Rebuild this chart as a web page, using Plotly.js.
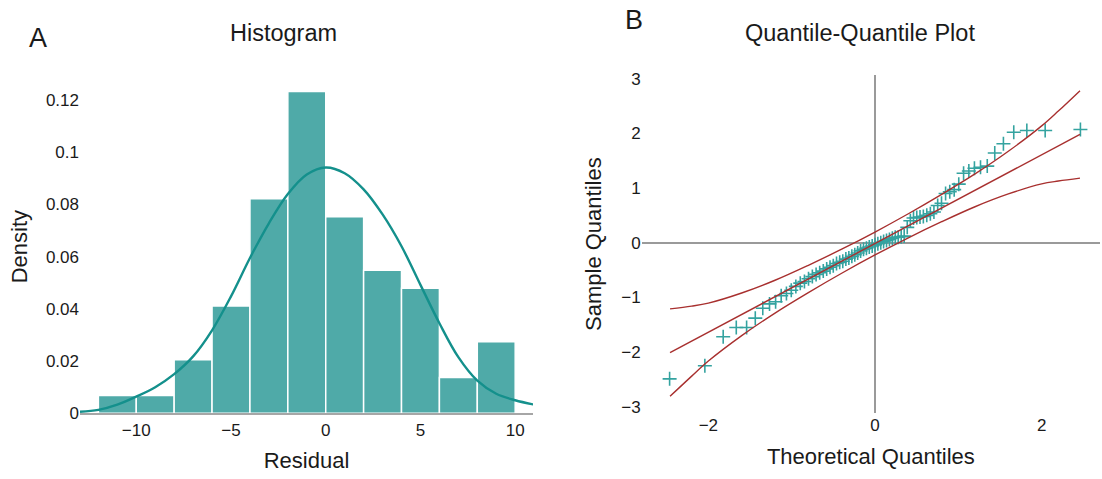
<!DOCTYPE html>
<html>
<head>
<meta charset="utf-8">
<script src="https://cdn.plot.ly/plotly-3.0.1.min.js"></script>
<style>html,body{margin:0;padding:0;background:#fff;}#chart{width:1102px;height:479px;}</style>
</head>
<body>
<div id="chart"></div>
<script>
// ---- Panel A: histogram of residuals (density scale) ----
const binCenters = [-11, -9, -7, -5, -3, -1, 1, 3, 5, 7, 9];
const binDensity = [0.0068, 0.0068, 0.0205, 0.0411, 0.0822, 0.1233, 0.0753, 0.0548, 0.0479, 0.0137, 0.0274];
const kdeX = [-12.97, -12, -11, -10, -9, -8, -7, -6, -5, -4, -3, -2, -1, 0, 1, 2, 3, 4, 5, 6, 7, 8, 9, 10, 10.95];
const kdeY = [0.0006, 0.0013, 0.0033, 0.0064, 0.0100, 0.0150, 0.0218, 0.0318, 0.0448, 0.0595, 0.0728, 0.0840, 0.0915, 0.0942, 0.0920, 0.0858, 0.0762, 0.0640, 0.0492, 0.0345, 0.0215, 0.0125, 0.0075, 0.0050, 0.0034];
const histXTicks = [-10, -5, 0, 5, 10];
const histYTicks = [0, 0.02, 0.04, 0.06, 0.08, 0.1, 0.12];

// ---- Panel B: Q-Q plot ----
const theoQ = [-2.465, -2.042, -1.822, -1.665, -1.541, -1.437, -1.347, -1.266, -1.193, -1.126,
  -1.063, -1.005, -0.950, -0.897, -0.847, -0.798, -0.752, -0.707, -0.664, -0.621,
  -0.580, -0.540, -0.501, -0.462, -0.424, -0.387, -0.350, -0.314, -0.278, -0.243,
  -0.208, -0.173, -0.138, -0.103, -0.069, -0.034, 0.000, 0.034, 0.069, 0.103,
  0.138, 0.173, 0.208, 0.243, 0.278, 0.314, 0.350, 0.387, 0.424, 0.462,
  0.501, 0.540, 0.580, 0.621, 0.664, 0.707, 0.752, 0.798, 0.847, 0.897,
  0.950, 1.005, 1.063, 1.126, 1.193, 1.266, 1.347, 1.437, 1.541, 1.665,
  1.822, 2.042, 2.465];
const sampleQ = [-2.49, -2.25, -1.72, -1.55, -1.55, -1.38, -1.20, -1.12, -1.08, -0.97,
  -0.93, -0.87, -0.80, -0.74, -0.71, -0.66, -0.62, -0.58, -0.55, -0.52,
  -0.48, -0.45, -0.42, -0.38, -0.36, -0.34, -0.30, -0.28, -0.25, -0.22,
  -0.19, -0.15, -0.12, -0.10, -0.08, -0.06, -0.04, -0.02, 0.00, 0.02,
  0.04, 0.06, 0.08, 0.10, 0.10, 0.11, 0.12, 0.28, 0.40, 0.45,
  0.46, 0.47, 0.48, 0.50, 0.53, 0.56, 0.68, 0.72, 0.90, 0.93,
  0.97, 1.07, 1.27, 1.31, 1.36, 1.38, 1.40, 1.64, 1.81, 2.02,
  2.05, 2.05, 2.07];
const refX = [-2.46, 2.46];
const refY = [-2.01, 1.98];
const bandX = [-2.46, -2.2, -2.0, -1.6, -1.2, -0.8, -0.4, 0, 0.4, 0.8, 1.2, 1.6, 2.0, 2.2, 2.46];
const upperY = [-1.21, -1.16, -1.105, -0.92, -0.687, -0.413, -0.119, 0.195, 0.529, 0.883, 1.257, 1.671, 2.135, 2.407, 2.78];
const lowerY = [-2.81, -2.44, -2.165, -1.70, -1.287, -0.913, -0.559, -0.225, 0.089, 0.383, 0.657, 0.891, 1.075, 1.127, 1.18];
const qqXTicks = [-2, 0, 2];
const qqYTicks = [-3, -2, -1, 0, 1, 2, 3];

const W = 1102, H = 479;
const px = v => v / W;
const py = v => 1 - v / H;
const FONT = 'Liberation Sans, Arial, Helvetica, sans-serif';
const TXT = '#1a1a1a';
const teal = '#4faaa8', tealDark = '#14908c', red = '#a8302f';

const traces = [
  { type: 'bar', x: binCenters, y: binDensity, width: 2, xaxis: 'x', yaxis: 'y',
    marker: { color: teal, line: { color: '#ffffff', width: 1.5 } }, hoverinfo: 'x+y' },
  { type: 'scatter', mode: 'lines', x: kdeX, y: kdeY, xaxis: 'x', yaxis: 'y',
    line: { color: tealDark, width: 2.4, shape: 'spline', smoothing: 1 } },
  { type: 'scatter', mode: 'markers', x: theoQ, y: sampleQ, xaxis: 'x2', yaxis: 'y2',
    marker: { symbol: 'cross-thin-open', size: 10, color: '#34a3a0', line: { color: '#34a3a0', width: 1.6 } } },
  { type: 'scatter', mode: 'lines', x: refX, y: refY, xaxis: 'x2', yaxis: 'y2',
    line: { color: red, width: 1.4 } },
  { type: 'scatter', mode: 'lines', x: bandX, y: upperY, xaxis: 'x2', yaxis: 'y2',
    line: { color: red, width: 1.4, shape: 'spline', smoothing: 1 } },
  { type: 'scatter', mode: 'lines', x: bandX, y: lowerY, xaxis: 'x2', yaxis: 'y2',
    line: { color: red, width: 1.4, shape: 'spline', smoothing: 1 } }
];

const tickFont = { family: FONT, size: 17, color: TXT };
const titleFont = { family: FONT, size: 22, color: TXT };

const layout = {
  width: W, height: H,
  margin: { l: 0, r: 0, t: 0, b: 0 },
  paper_bgcolor: '#ffffff', plot_bgcolor: '#ffffff',
  showlegend: false,
  font: { family: FONT, color: TXT },
  xaxis: {
    domain: [px(80), px(533)], anchor: 'y', range: [-12.97, 10.94],
    tickvals: histXTicks, tickfont: tickFont, ticks: '', showgrid: false, zeroline: false,
    showline: true, linecolor: '#a6a6a6', linewidth: 2,
    title: { text: 'Residual', font: titleFont, standoff: 14 }, automargin: false
  },
  yaxis: {
    domain: [py(413.3), py(80)], anchor: 'x', range: [0, 0.1277],
    tickvals: histYTicks, tickfont: tickFont, ticks: '', showgrid: false, zeroline: false, showline: false,
    title: { text: 'Density', font: titleFont, standoff: 12 }, automargin: false
  },
  xaxis2: {
    domain: [px(641.7), px(1100)], anchor: 'y2', range: [-2.80, 2.70],
    tickvals: qqXTicks, tickfont: tickFont, ticks: '', showgrid: false,
    zeroline: true, zerolinecolor: '#9a9a9a', zerolinewidth: 2, showline: false,
    title: { text: 'Theoretical Quantiles', font: titleFont, standoff: 14 }, automargin: false
  },
  yaxis2: {
    domain: [py(413.3), py(75)], anchor: 'x2', range: [-3.12, 3.066],
    tickvals: qqYTicks, tickfont: tickFont, ticks: '', showgrid: false,
    zeroline: true, zerolinecolor: '#9a9a9a', zerolinewidth: 2, showline: false,
    title: { text: 'Sample Quantiles', font: titleFont, standoff: 13 }, automargin: false
  },
  annotations: [
    { text: 'A', xref: 'paper', yref: 'paper', x: px(38), y: py(37.7), xanchor: 'center', yanchor: 'middle',
      showarrow: false, font: { family: FONT, size: 27, color: TXT } },
    { text: 'B', xref: 'paper', yref: 'paper', x: px(634), y: py(20), xanchor: 'center', yanchor: 'middle',
      showarrow: false, font: { family: FONT, size: 27, color: TXT } },
    { text: 'Histogram', xref: 'paper', yref: 'paper', x: px(283.3), y: py(33.3), xanchor: 'center', yanchor: 'middle',
      showarrow: false, font: { family: FONT, size: 23.5, color: TXT } },
    { text: 'Quantile-Quantile Plot', xref: 'paper', yref: 'paper', x: px(860), y: py(33.3), xanchor: 'center', yanchor: 'middle',
      showarrow: false, font: { family: FONT, size: 23.5, color: TXT } }
  ]
};

Plotly.newPlot('chart', traces, layout, { displayModeBar: false, responsive: false });
</script>
</body>
</html>
